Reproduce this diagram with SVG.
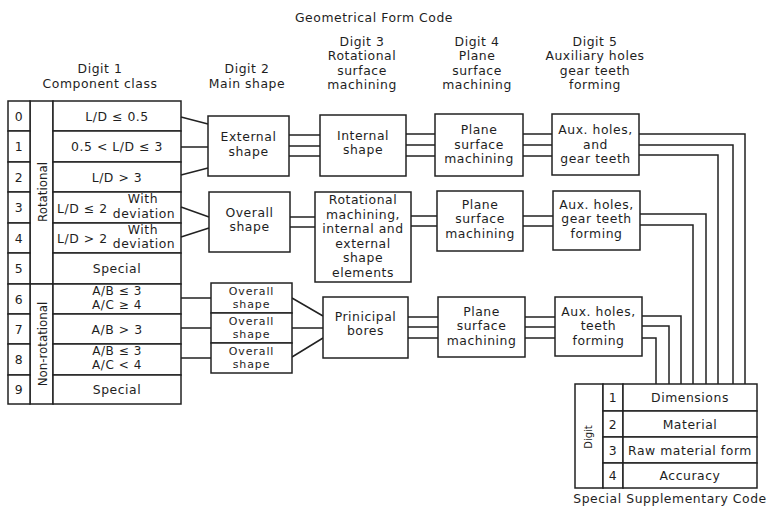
<svg xmlns="http://www.w3.org/2000/svg" width="770" height="509" viewBox="0 0 770 509">
<style>
.b{fill:#fff;stroke:#222;stroke-width:1.5}
.c{fill:none;stroke:#222;stroke-width:1.5}
text{font-family:"DejaVu Sans",sans-serif;font-size:12.4px;letter-spacing:0.55px;fill:#1e1e1e;text-anchor:middle}
.s{text-anchor:start}
.v{font-size:11.8px;letter-spacing:0}
.t{font-size:12px}
.o{font-size:11px;letter-spacing:0.9px}
</style>
<rect width="770" height="509" fill="#fff"/>
<g id="headers">
<text x="374" y="22">Geometrical Form Code</text>
<text x="100" y="73">Digit 1</text><text x="100" y="88">Component class</text>
<text x="247" y="73">Digit 2</text><text x="247" y="88">Main shape</text>
<text x="362" y="45.5">Digit 3</text><text x="362" y="60">Rotational</text><text x="362" y="74.5">surface</text><text x="362" y="89">machining</text>
<text x="477" y="45.5">Digit 4</text><text x="477" y="60">Plane</text><text x="477" y="74.5">surface</text><text x="477" y="89">machining</text>
<text x="595" y="45.5">Digit 5</text><text x="595" y="60">Auxiliary holes</text><text x="595" y="74.5">gear teeth</text><text x="595" y="89">forming</text>
</g>
<g id="digit1">
<rect class="b" x="30" y="101" width="23" height="183"/>
<rect class="b" x="30" y="284" width="23" height="120"/>
<text class="v" transform="translate(46.5,192) rotate(-90)">Rotational</text>
<text class="v" transform="translate(46.5,344) rotate(-90)">Non-rotational</text>
<g id="r0"><rect class="b" x="8" y="101" width="22" height="30"/><rect class="b" x="53" y="101" width="128" height="30"/><text x="19" y="120.5">0</text><text x="117" y="120.5">L/D ≤ 0.5</text></g>
<g id="r1"><rect class="b" x="8" y="131" width="22" height="31"/><rect class="b" x="53" y="131" width="128" height="31"/><text x="19" y="151">1</text><text x="117" y="151">0.5 &lt; L/D ≤ 3</text></g>
<g id="r2"><rect class="b" x="8" y="162" width="22" height="30"/><rect class="b" x="53" y="162" width="128" height="30"/><text x="19" y="181.5">2</text><text x="117" y="181.5">L/D &gt; 3</text></g>
<g id="r3"><rect class="b" x="8" y="192" width="22" height="31"/><rect class="b" x="53" y="192" width="128" height="31"/><text x="19" y="212">3</text><text class="s" x="57" y="212.5">L/D ≤ 2</text><text x="143" y="203">With</text><text x="144" y="217.5">deviation</text></g>
<g id="r4"><rect class="b" x="8" y="223" width="22" height="30"/><rect class="b" x="53" y="223" width="128" height="30"/><text x="19" y="242.5">4</text><text class="s" x="57" y="243">L/D &gt; 2</text><text x="143" y="233.5">With</text><text x="144" y="248">deviation</text></g>
<g id="r5"><rect class="b" x="8" y="253" width="22" height="31"/><rect class="b" x="53" y="253" width="128" height="31"/><text x="19" y="273">5</text><text x="117" y="273">Special</text></g>
<g id="r6"><rect class="b" x="8" y="284" width="22" height="30"/><rect class="b" x="53" y="284" width="128" height="30"/><text x="19" y="303.5">6</text><text class="t" x="117" y="295">A/B ≤ 3</text><text class="t" x="117" y="309">A/C ≥ 4</text></g>
<g id="r7"><rect class="b" x="8" y="314" width="22" height="30"/><rect class="b" x="53" y="314" width="128" height="30"/><text x="19" y="333.5">7</text><text x="117" y="333.5">A/B &gt; 3</text></g>
<g id="r8"><rect class="b" x="8" y="344" width="22" height="31"/><rect class="b" x="53" y="344" width="128" height="31"/><text x="19" y="364">8</text><text class="t" x="117" y="355">A/B ≤ 3</text><text class="t" x="117" y="369">A/C &lt; 4</text></g>
<g id="r9"><rect class="b" x="8" y="375" width="22" height="29"/><rect class="b" x="53" y="375" width="128" height="29"/><text x="19" y="394">9</text><text x="117" y="394">Special</text></g>
</g>
<g id="connectors" class="c">
<path d="M181 117L208 124M181 147H208M181 175L208 168M181 207L209 217M181 237L209 228M181 298H211M181 328H211M181 358H211"/>
<path d="M289 135H320M289 146H320M289 156H320M290 217H315M290 227H315M292 298L323 316M292 328H323M292 357L323 338"/>
<path d="M406 134H435M406 145H435M406 156H435M411 216H437M411 226H437M408 317H438M408 327H438M408 338H438"/>
<path d="M523 134H552M523 145H552M523 156H552M523 216H553M523 226H553M525 317H555M525 327H555M525 338H555"/>
<path d="M639 134H745V384M639 145H733V384M639 155H718V384M640 214H706V384M640 225H693V384M642 316H681V384M642 326H669V384M642 338H656V384"/>
</g>
<g id="externalShape"><rect class="b" x="208" y="116" width="81" height="60"/><text x="248.5" y="141">External</text><text x="248.5" y="155.5">shape</text></g>
<g id="overallShape"><rect class="b" x="209" y="192" width="81" height="60"/><text x="249.5" y="216.5">Overall</text><text x="249.5" y="231">shape</text></g>
<g id="overallShape6"><rect class="b" x="211" y="283" width="81" height="30"/><text class="o" x="251.5" y="295">Overall</text><text class="o" x="251.5" y="308">shape</text></g>
<g id="overallShape7"><rect class="b" x="211" y="313" width="81" height="30"/><text class="o" x="251.5" y="325">Overall</text><text class="o" x="251.5" y="338">shape</text></g>
<g id="overallShape8"><rect class="b" x="211" y="343" width="81" height="30"/><text class="o" x="251.5" y="355">Overall</text><text class="o" x="251.5" y="368">shape</text></g>
<g id="internalShape"><rect class="b" x="320" y="115" width="86" height="61"/><text x="363" y="139.5">Internal</text><text x="363" y="154">shape</text></g>
<g id="rotationalMachining"><rect class="b" x="315" y="192" width="96" height="90"/><text x="363" y="204">Rotational</text><text x="363" y="218.5">machining,</text><text x="363" y="233">internal and</text><text x="363" y="247.5">external</text><text x="363" y="262">shape</text><text x="363" y="276.5">elements</text></g>
<g id="principalBores"><rect class="b" x="323" y="297" width="85" height="61"/><text x="365.5" y="320.5">Prinicipal</text><text x="365.5" y="335">bores</text></g>
<g id="plane1"><rect class="b" x="435" y="114" width="88" height="62"/><text x="479" y="134">Plane</text><text x="479" y="148.5">surface</text><text x="479" y="163">machining</text></g>
<g id="plane2"><rect class="b" x="437" y="191" width="86" height="60"/><text x="480" y="208.5">Plane</text><text x="480" y="223">surface</text><text x="480" y="237.5">machining</text></g>
<g id="plane3"><rect class="b" x="438" y="297" width="87" height="60"/><text x="481.5" y="315.5">Plane</text><text x="481.5" y="330">surface</text><text x="481.5" y="344.5">machining</text></g>
<g id="aux1"><rect class="b" x="552" y="114" width="87" height="61"/><text x="595.5" y="134">Aux. holes,</text><text x="595.5" y="148.5">and</text><text x="595.5" y="163">gear teeth</text></g>
<g id="aux2"><rect class="b" x="553" y="191" width="87" height="59"/><text x="596.5" y="208.5">Aux. holes,</text><text x="596.5" y="223">gear teeth</text><text x="596.5" y="237.5">forming</text></g>
<g id="aux3"><rect class="b" x="555" y="297" width="87" height="59"/><text x="598.5" y="315.5">Aux. holes,</text><text x="598.5" y="330">teeth</text><text x="598.5" y="344.5">forming</text></g>
<g id="supplementary">
<rect class="b" x="575" y="384" width="28" height="104"/>
<text style="font-size:10px;letter-spacing:0" transform="translate(592,437) rotate(-90)">Digit</text>
<rect class="b" x="603" y="384" width="20" height="27"/><rect class="b" x="623" y="384" width="134" height="27"/><text x="613" y="402">1</text><text x="690" y="402">Dimensions</text>
<rect class="b" x="603" y="411" width="20" height="26"/><rect class="b" x="623" y="411" width="134" height="26"/><text x="613" y="428.5">2</text><text x="690" y="428.5">Material</text>
<rect class="b" x="603" y="437" width="20" height="26"/><rect class="b" x="623" y="437" width="134" height="26"/><text x="613" y="454.5">3</text><text x="690" y="454.5">Raw material form</text>
<rect class="b" x="603" y="463" width="20" height="25"/><rect class="b" x="623" y="463" width="134" height="25"/><text x="613" y="480">4</text><text x="690" y="480">Accuracy</text>
<text x="670" y="503">Special Supplementary Code</text>
</g>
</svg>
